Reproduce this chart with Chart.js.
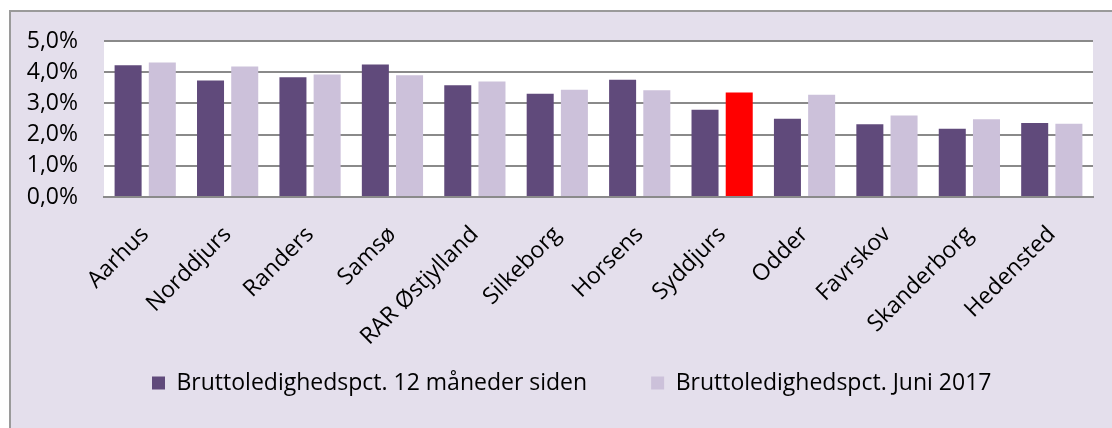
<!DOCTYPE html>
<html>
<head>
<meta charset="utf-8">
<script src="https://cdn.jsdelivr.net/npm/chart.js@4/dist/chart.umd.min.js"></script>
<style>
  html, body { margin: 0; padding: 0; background: #fff; width: 1112px; height: 428px; overflow: hidden; }
  #frame {
    position: absolute; left: 9px; top: 10px; width: 1120px; height: 430px;
    background: #e4dfec; border: 2px solid #9a9a9a;
  }
  #chart { position: absolute; left: 11px; top: 12px; }
</style>
</head>
<body>
<div id="frame"></div>
<canvas id="chart" width="1101" height="416"></canvas>
<script>
// data (percent)
const categories = ["Aarhus", "Norddjurs", "Randers", "Samsø", "RAR Østjylland", "Silkeborg",
  "Horsens", "Syddjurs", "Odder", "Favrskov", "Skanderborg", "Hedensted"];
const lastYear = [4.22, 3.73, 3.84, 4.25, 3.58, 3.31, 3.76, 2.80, 2.51, 2.33, 2.19, 2.37];
const june2017 = [4.31, 4.18, 3.93, 3.90, 3.70, 3.44, 3.42, 3.35, 3.28, 2.61, 2.49, 2.35];
const seriesNames = ["Bruttoledighedspct. 12 måneder siden", "Bruttoledighedspct. Juni 2017"];
const highlight = "Syddjurs";

const font = "'Open Sans', Lato, sans-serif";

// white plot area
const plotBg = {
  id: "plotBg",
  beforeDraw(chart) {
    const a = chart.chartArea;
    chart.ctx.save();
    chart.ctx.fillStyle = "#ffffff";
    chart.ctx.fillRect(a.left, a.top, a.right - a.left, a.bottom - a.top);
    chart.ctx.restore();
  },
};

// put the legend row where the original has it (first box at x=141, row middle at y=371)
const legendPlace = {
  id: "legendPlace",
  afterLayout(chart) {
    const lg = chart.legend;
    const pad = lg.options.labels.padding;
    const x0 = (lg.left + pad + lg.right - lg.lineWidths[0]) / 2;
    const dx = 141 - x0;
    lg.left += dx;
    lg.right += dx;
    lg.top = 371 - pad - 11.5;
    lg.bottom = chart.height;
    lg.height = lg.bottom - lg.top;
  },
};

const ctx = document.getElementById("chart").getContext("2d");

new Chart(ctx, {
  type: "bar",
  data: {
    labels: categories,
    datasets: [
      {
        label: seriesNames[0],
        data: lastYear,
        backgroundColor: "#604a7b",
        categoryPercentage: 0.83,
        barPercentage: 0.79,
      },
      {
        label: seriesNames[1],
        data: june2017,
        backgroundColor: categories.map((c) => (c === highlight ? "#ff0000" : "#ccc1da")),
        categoryPercentage: 0.83,
        barPercentage: 0.79,
      },
    ],
  },
  options: {
    responsive: false,
    animation: false,
    layout: { padding: { top: 29, right: 19, bottom: 0, left: 0 } },
    scales: {
      x: {
        grid: { display: false },
        border: { display: true, color: "#8a8a8a", width: 2 },
        ticks: {
          color: "#000",
          font: { family: font, size: 23 },
          minRotation: 45,
          maxRotation: 45,
          autoSkip: false,
          padding: 16,
        },
        afterFit: (s) => { s.height = 160; },
      },
      y: {
        min: 0,
        max: 5,
        ticks: {
          stepSize: 1,
          autoSkip: false,
          color: "#000",
          font: { family: font, size: 23 },
          padding: 0,
          callback: (v) => v.toFixed(1).replace(".", ",") + "%",
        },
        grid: { color: "#8a8a8a", lineWidth: 2, drawTicks: true, tickLength: 26, tickColor: "transparent" },
        border: { display: false },
        afterFit: (s) => { s.width = 93; },
      },
    },
    plugins: {
      legend: {
        position: "bottom",
        maxHeight: 71,
        labels: {
          color: "#000",
          font: { family: font, size: 23 },
          boxWidth: 13,
          boxHeight: 13,
          padding: 64,
        },
      },
      tooltip: { enabled: false },
    },
  },
  plugins: [plotBg, legendPlace],
});
</script>
</body>
</html>
